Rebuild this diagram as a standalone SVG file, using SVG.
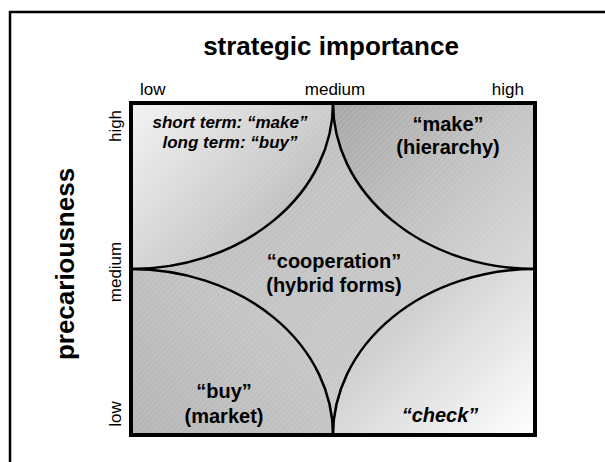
<svg xmlns="http://www.w3.org/2000/svg" width="605" height="462" viewBox="0 0 605 462">
<defs>
<style>
text{font-family:"Liberation Sans",Arial,sans-serif;fill:#000}
.title{font-size:26px;font-weight:bold;text-anchor:middle}
.axis{font-size:17px}
.lbl{font-size:20px;font-weight:bold;text-anchor:middle}
.it{font-style:italic}
.small{font-size:17px;font-weight:bold;font-style:italic;text-anchor:middle}
.arc{fill:none;stroke:#000;stroke-width:2.5}
</style>
<linearGradient id="gTL" gradientUnits="userSpaceOnUse" x1="131" y1="103" x2="265" y2="225"><stop offset="0" stop-color="#f3f3f3"/><stop offset="1" stop-color="#c2c2c2"/></linearGradient>
<linearGradient id="gTR" gradientUnits="userSpaceOnUse" x1="345" y1="105" x2="530" y2="265"><stop offset="0" stop-color="#a8a8a8"/><stop offset="1" stop-color="#d8d8d8"/></linearGradient>
<linearGradient id="gBL" gradientUnits="userSpaceOnUse" x1="135" y1="430" x2="320" y2="280"><stop offset="0" stop-color="#b4b4b4"/><stop offset="1" stop-color="#cbcbcb"/></linearGradient>
<linearGradient id="gBR" gradientUnits="userSpaceOnUse" x1="535" y1="435" x2="400" y2="300"><stop offset="0" stop-color="#ffffff"/><stop offset="1" stop-color="#cacaca"/></linearGradient>
<linearGradient id="gC" gradientUnits="userSpaceOnUse" x1="200" y1="150" x2="470" y2="390"><stop offset="0" stop-color="#bcbcbc"/><stop offset="1" stop-color="#cdcdcd"/></linearGradient>
<pattern id="hatch" patternUnits="userSpaceOnUse" width="4" height="4" patternTransform="rotate(45)"><line x1="1" y1="0" x2="1" y2="4" stroke="#ffffff" stroke-opacity="0.18" stroke-width="1"/></pattern>
</defs>
<rect x="10" y="12" width="640" height="500" fill="#fff" stroke="#000" stroke-width="2.5"/>
<text class="title" x="331" y="55">strategic importance</text>
<text class="title" transform="translate(74,264) rotate(-90)">precariousness</text>
<g id="axis-top">
<text class="axis" x="140" y="95">low</text>
<text class="axis" x="335" y="95" text-anchor="middle">medium</text>
<text class="axis" x="524" y="95" text-anchor="end">high</text>
</g>
<g id="axis-left">
<text class="axis" text-anchor="middle" transform="translate(121,126) rotate(-90)">high</text>
<text class="axis" text-anchor="middle" transform="translate(121,272) rotate(-90)">medium</text>
<text class="axis" text-anchor="middle" transform="translate(121,414) rotate(-90)">low</text>
</g>
<rect x="133" y="105" width="404" height="332" fill="#9a9a9a"/>
<g id="center">
<rect x="131" y="103" width="404" height="332" fill="url(#gC)"/>
</g>
<g id="top-left"><path d="M131,103 L333,103 A202,166 0 0,1 131,269 Z" fill="url(#gTL)"/></g>
<g id="top-right"><path d="M535,103 L535,269 A202,166 0 0,1 333,103 Z" fill="url(#gTR)"/></g>
<g id="bottom-right"><path d="M535,435 L333,435 A202,166 0 0,1 535,269 Z" fill="url(#gBR)"/></g>
<g id="bottom-left"><path d="M131,435 L131,269 A202,166 0 0,1 333,435 Z" fill="url(#gBL)"/></g>
<rect x="131" y="103" width="404" height="332" fill="url(#hatch)"/>
<g id="connectors">
<path class="arc" d="M333,103 A202,166 0 0,1 131,269"/>
<path class="arc" d="M535,269 A202,166 0 0,1 333,103"/>
<path class="arc" d="M333,435 A202,166 0 0,1 535,269"/>
<path class="arc" d="M131,269 A202,166 0 0,1 333,435"/>
</g>
<rect x="131" y="103" width="404" height="332" fill="none" stroke="#000" stroke-width="4"/>
<g id="labels">
<text class="small" x="230" y="128">short term: “make”</text>
<text class="small" x="230" y="148">long term: “buy”</text>
<text class="lbl" x="448" y="131">“make”</text>
<text class="lbl" x="448" y="154">(hierarchy)</text>
<text class="lbl" x="334" y="268">“cooperation”</text>
<text class="lbl" x="334" y="292">(hybrid forms)</text>
<text class="lbl" x="224" y="398">“buy”</text>
<text class="lbl" x="224" y="423">(market)</text>
<text class="lbl it" x="440" y="422">“check”</text>
</g>
</svg>
